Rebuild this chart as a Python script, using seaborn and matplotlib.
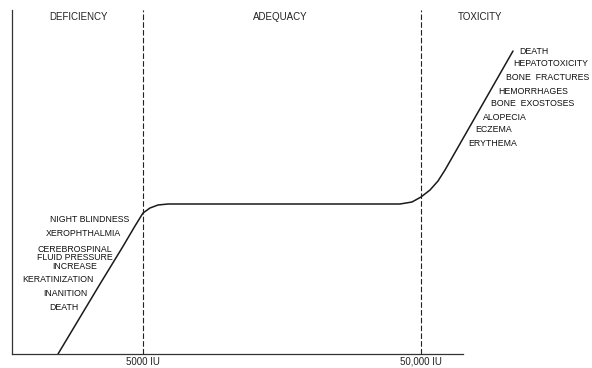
import matplotlib
matplotlib.use('Agg')
import matplotlib.pyplot as plt
import seaborn as sns
import pandas as pd

# schematic dose-response curve (x: vitamin A intake on a schematic scale, y: response)
dose = [46, 67, 88, 110, 123, 131, 138, 146, 156, 250, 388, 400, 409, 418, 426, 433, 501]
response = [0, 35, 70, 106, 128, 141, 146, 149, 150, 150, 150, 152, 157, 164, 173, 184, 303]

tick_pos = [131, 409]
tick_labels = ['5000 IU', '50,000 IU']

zones = ['DEFICIENCY', 'ADEQUACY', 'TOXICITY']
zone_x = [67, 268, 468]

deficiency_signs = ['NIGHT BLINDNESS', 'XEROPHTHALMIA',
                    'CEREBROSPINAL\nFLUID PRESSURE\nINCREASE',
                    'KERATINIZATION', 'INANITION', 'DEATH']
deficiency_x = [117, 109, 101, 82, 75, 67]
deficiency_y = [135, 120, 96, 74, 60, 46]

toxicity_signs = ['DEATH', 'HEPATOTOXICITY', 'BONE  FRACTURES', 'HEMORRHAGES',
                  'BONE  EXOSTOSES', 'ALOPECIA', 'ECZEMA', 'ERYTHEMA']
toxicity_x = [507, 501, 494, 486, 479, 471, 463, 456]
toxicity_y = [303, 291, 277, 263, 250, 237, 224, 211]

sns.set_style('white')
plt.rcParams['font.family'] = ['Liberation Sans Narrow', 'DejaVu Sans Condensed', 'Liberation Sans']

fig = plt.figure(figsize=(5.92, 3.68), dpi=100)
ax = fig.add_axes([12 / 592, 14 / 368, 580 / 592, 344 / 368])

curve = pd.DataFrame({'dose': dose, 'response': response})
sns.lineplot(data=curve, x='dose', y='response', sort=False, color='#1a1a1a',
             lw=1.1, ax=ax, solid_capstyle='round')

for xp in tick_pos:
    ax.axvline(xp, color='#222222', lw=0.8, dashes=(5, 2))

ax.set_xlim(0, 580)
ax.set_ylim(0, 344)
ax.set_xticks(tick_pos)
ax.set_xticklabels(tick_labels, fontsize=7, family='Liberation Sans', color='#222222')
ax.set_yticks([])
ax.tick_params(axis='x', length=0, pad=2)
ax.set_xlabel('')
ax.set_ylabel('')

for side in ['top', 'right']:
    ax.spines[side].set_visible(False)
ax.spines['left'].set_color('#333333')
ax.spines['bottom'].set_color('#333333')
ax.spines['left'].set_linewidth(0.9)
ax.spines['bottom'].set_linewidth(0.9)
ax.spines['bottom'].set_bounds(0, 451)

for name, xz in zip(zones, zone_x):
    ax.text(xz, 337, name, ha='center', va='center', fontsize=7,
            family='Liberation Sans', color='#222222')

for s, xs, ys in zip(deficiency_signs, deficiency_x, deficiency_y):
    ax.text(xs, ys, s, ha='right', va='center', fontsize=6.3,
            multialignment='center', linespacing=0.95, color='#111111')

for s, xs, ys in zip(toxicity_signs, toxicity_x, toxicity_y):
    ax.text(xs, ys, s, ha='left', va='center', fontsize=6.3, color='#111111')

fig.savefig('out.png', dpi=100)
